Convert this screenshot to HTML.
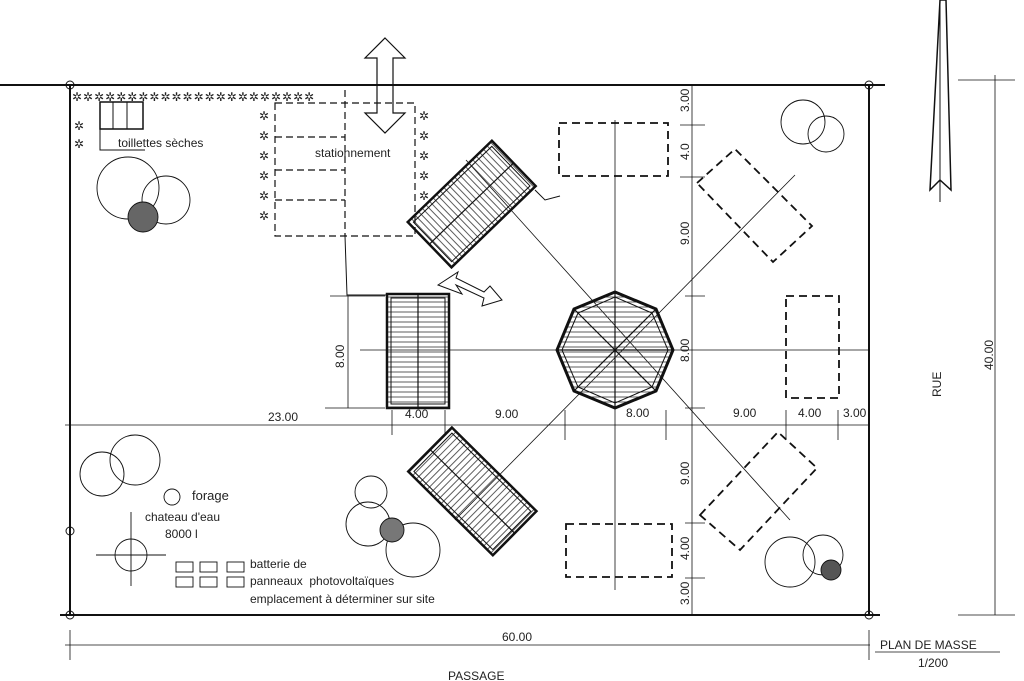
<!DOCTYPE html>
<html><head><meta charset="utf-8"><style>
html,body{margin:0;padding:0;background:#fff}
svg{display:block}
text{font-family:"Liberation Sans",sans-serif;fill:#222}
.hd{font-family:"DejaVu Sans",sans-serif;fill:#444}
</style></head><body>
<svg width="1024" height="681" viewBox="0 0 1024 681" xmlns="http://www.w3.org/2000/svg">
<defs>
<pattern id="hv" width="5" height="10" patternUnits="userSpaceOnUse"><line x1="2" y1="0" x2="2" y2="10" stroke="#333" stroke-width="0.8"/></pattern>
<pattern id="hh" width="10" height="5" patternUnits="userSpaceOnUse"><line x1="0" y1="2" x2="10" y2="2" stroke="#333" stroke-width="0.8"/></pattern>
</defs>
<g stroke="#111" fill="none">
<line x1="0" y1="85" x2="885" y2="85" stroke-width="2"/>
<line x1="70" y1="85" x2="70" y2="615" stroke-width="2"/>
<line x1="869" y1="85" x2="869" y2="615" stroke-width="2"/>
<line x1="60" y1="615" x2="880" y2="615" stroke-width="2"/>
<circle cx="70" cy="85" r="4"/><circle cx="869" cy="85" r="4"/><circle cx="70" cy="615" r="4"/><circle cx="869" cy="615" r="4"/>
<circle cx="70" cy="531" r="4"/>
<g stroke-width="0.8">
<line x1="65" y1="425" x2="870" y2="425"/>
<line x1="360" y1="350" x2="870" y2="350"/>
<line x1="615" y1="120" x2="615" y2="590"/>
<line x1="692" y1="85" x2="692" y2="615"/>
<line x1="466" y1="160" x2="790" y2="520"/>
<line x1="455" y1="520" x2="795" y2="175"/>
<line x1="65" y1="645" x2="870" y2="645"/>
<line x1="70" y1="630" x2="70" y2="660"/>
<line x1="869" y1="630" x2="869" y2="660"/>
<line x1="995" y1="75" x2="995" y2="615"/>
<line x1="958" y1="80" x2="1015" y2="80"/>
<line x1="958" y1="615" x2="1015" y2="615"/>
<line x1="875" y1="652" x2="1000" y2="652"/>
<line x1="565" y1="410" x2="565" y2="440"/><line x1="666" y1="410" x2="666" y2="440"/>
<line x1="786" y1="410" x2="786" y2="440"/><line x1="838" y1="410" x2="838" y2="440"/>
<line x1="392" y1="410" x2="392" y2="435"/><line x1="445" y1="410" x2="445" y2="435"/>
<line x1="680" y1="125" x2="705" y2="125"/><line x1="680" y1="177" x2="705" y2="177"/>
<line x1="685" y1="296" x2="705" y2="296"/><line x1="685" y1="408" x2="705" y2="408"/>
<line x1="685" y1="523" x2="705" y2="523"/><line x1="685" y1="578" x2="705" y2="578"/>
<line x1="330" y1="296" x2="385" y2="296"/><line x1="325" y1="408" x2="385" y2="408"/>
<line x1="348" y1="296" x2="348" y2="408"/>
</g>
<g stroke-dasharray="7,4" stroke-width="1.2">
<rect x="275" y="103" width="140" height="133"/>
<line x1="275" y1="137" x2="345" y2="137"/><line x1="275" y1="170" x2="345" y2="170"/><line x1="275" y1="200" x2="345" y2="200"/>
<line x1="345" y1="90" x2="345" y2="236"/>
</g>
<polyline points="345,236 347,295 388,295"/>
<polygon points="385,38 405,58 393,58 393,113 405,113 385,133 365,113 377,113 377,58 365,58" stroke-width="1.2"/>
<polygon points="438,285 458,272 456,278 484,292 490,286 502,300 482,306 484,298 456,285 462,294" stroke-width="1"/>
<g transform="translate(471,204) rotate(-44)">
<rect x="-58" y="-31" width="117" height="63" fill="url(#hv)" stroke-width="2.5"/>
<rect x="-54" y="-27" width="109" height="55" stroke-width="1"/>
<line x1="-58" y1="0" x2="59" y2="0" stroke-width="1.2"/>
</g>
<polyline points="535,190 545,200 560,196"/>
<g transform="translate(472,491) rotate(44.7)">
<rect x="-59" y="-31" width="119" height="62" fill="url(#hv)" stroke-width="2.5"/>
<rect x="-55" y="-27" width="111" height="54" stroke-width="1"/>
<line x1="-59" y1="0" x2="60" y2="0" stroke-width="1.2"/>
</g>
<rect x="387" y="294" width="62" height="114" fill="url(#hh)" stroke-width="2.5"/>
<rect x="391" y="298" width="54" height="106" stroke-width="1"/>
<line x1="418" y1="294" x2="418" y2="408" stroke-width="1.2"/>
<polygon points="673,350 656,391 615,408 574,391 557,350 574,309 615,292 656,309" stroke-width="3" fill="url(#hh)"/>
<polygon points="668,350 652,387 615,403 578,387 562,350 578,313 615,297 652,313" stroke-width="1"/>
<g stroke-width="1.2"><line x1="557" y1="350" x2="673" y2="350"/><line x1="615" y1="292" x2="615" y2="408"/><line x1="574" y1="309" x2="656" y2="391"/><line x1="574" y1="391" x2="656" y2="309"/></g>
<g stroke-dasharray="8,5" stroke-width="1.8">
<rect x="559" y="123" width="109" height="53"/>
<rect x="786" y="296" width="53" height="102"/>
<rect x="566" y="524" width="106" height="53"/>
<polygon points="697,183 735,149 812,226 773,262"/>
<polygon points="700,515 778,432 817,468 740,550"/>
</g>
<rect x="100" y="102" width="43" height="27" stroke-width="1.5"/>
<line x1="113" y1="102" x2="113" y2="129"/><line x1="127" y1="102" x2="127" y2="129"/>
<polyline points="100,129 100,150 145,150"/>
<g stroke-width="0.9">
<circle cx="128" cy="188" r="31"/><circle cx="166" cy="200" r="24"/>
<circle cx="143" cy="217" r="15" fill="#666"/>
<circle cx="803" cy="122" r="22"/><circle cx="826" cy="134" r="18"/>
<circle cx="102" cy="474" r="22"/><circle cx="135" cy="460" r="25"/>
<circle cx="371" cy="492" r="16"/><circle cx="368" cy="524" r="22"/>
<circle cx="413" cy="550" r="27"/><circle cx="392" cy="530" r="12" fill="#777"/>
<circle cx="790" cy="562" r="25"/><circle cx="823" cy="555" r="20"/><circle cx="831" cy="570" r="10" fill="#555"/>
<circle cx="172" cy="497" r="8"/>
<circle cx="131" cy="555" r="16"/>
<line x1="96" y1="555" x2="166" y2="555"/><line x1="131" y1="512" x2="131" y2="586"/>
<rect x="176" y="562" width="17" height="10"/><rect x="200" y="562" width="17" height="10"/><rect x="227" y="562" width="17" height="10"/>
<rect x="176" y="577" width="17" height="10"/><rect x="200" y="577" width="17" height="10"/><rect x="227" y="577" width="17" height="10"/>
</g>
<polygon points="940,0 946,0 951,190 940,180 930,190" stroke-width="1.5"/>
<line x1="940" y1="0" x2="940" y2="202"/>
</g>
<g class="hd" font-size="12">
<text x="72" y="101" letter-spacing="1">✲✲✲✲✲✲✲✲✲✲✲✲✲✲✲✲✲✲✲✲✲✲</text>
<text x="74" y="130">✲</text><text x="74" y="148">✲</text>
<text x="259" y="120">✲</text><text x="259" y="140">✲</text><text x="259" y="160">✲</text><text x="259" y="180">✲</text><text x="259" y="200">✲</text><text x="259" y="220">✲</text>
<text x="419" y="120">✲</text><text x="419" y="140">✲</text><text x="419" y="160">✲</text><text x="419" y="180">✲</text><text x="419" y="200">✲</text>
</g>
<g font-size="12">
<text x="118" y="147">toillettes sèches</text>
<text x="315" y="157">stationnement</text>
<text x="192" y="500" font-size="13">forage</text>
<text x="145" y="521">chateau d'eau</text>
<text x="165" y="538">8000 l</text>
<text x="250" y="568">batterie de</text>
<text x="250" y="585">panneaux&#160; photovoltaïques</text>
<text x="250" y="603">emplacement à déterminer sur site</text>
<text x="268" y="421">23.00</text>
<text x="405" y="418">4.00</text>
<text x="495" y="418">9.00</text>
<text x="626" y="417">8.00</text>
<text x="733" y="417">9.00</text>
<text x="798" y="417">4.00</text>
<text x="843" y="417">3.00</text>
<text x="502" y="641">60.00</text>
<text x="448" y="680">PASSAGE</text>
<text x="880" y="649">PLAN DE MASSE</text>
<text x="918" y="667">1/200</text>
<text transform="translate(344,368) rotate(-90)">8.00</text>
<text transform="translate(689,112) rotate(-90)">3.00</text>
<text transform="translate(689,160) rotate(-90)">4.0</text>
<text transform="translate(689,245) rotate(-90)">9.00</text>
<text transform="translate(689,362) rotate(-90)">8.00</text>
<text transform="translate(689,485) rotate(-90)">9.00</text>
<text transform="translate(689,560) rotate(-90)">4.00</text>
<text transform="translate(689,605) rotate(-90)">3.00</text>
<text transform="translate(941,397) rotate(-90)">RUE</text>
<text transform="translate(993,370) rotate(-90)">40.00</text>
</g>
</svg>
</body></html>
